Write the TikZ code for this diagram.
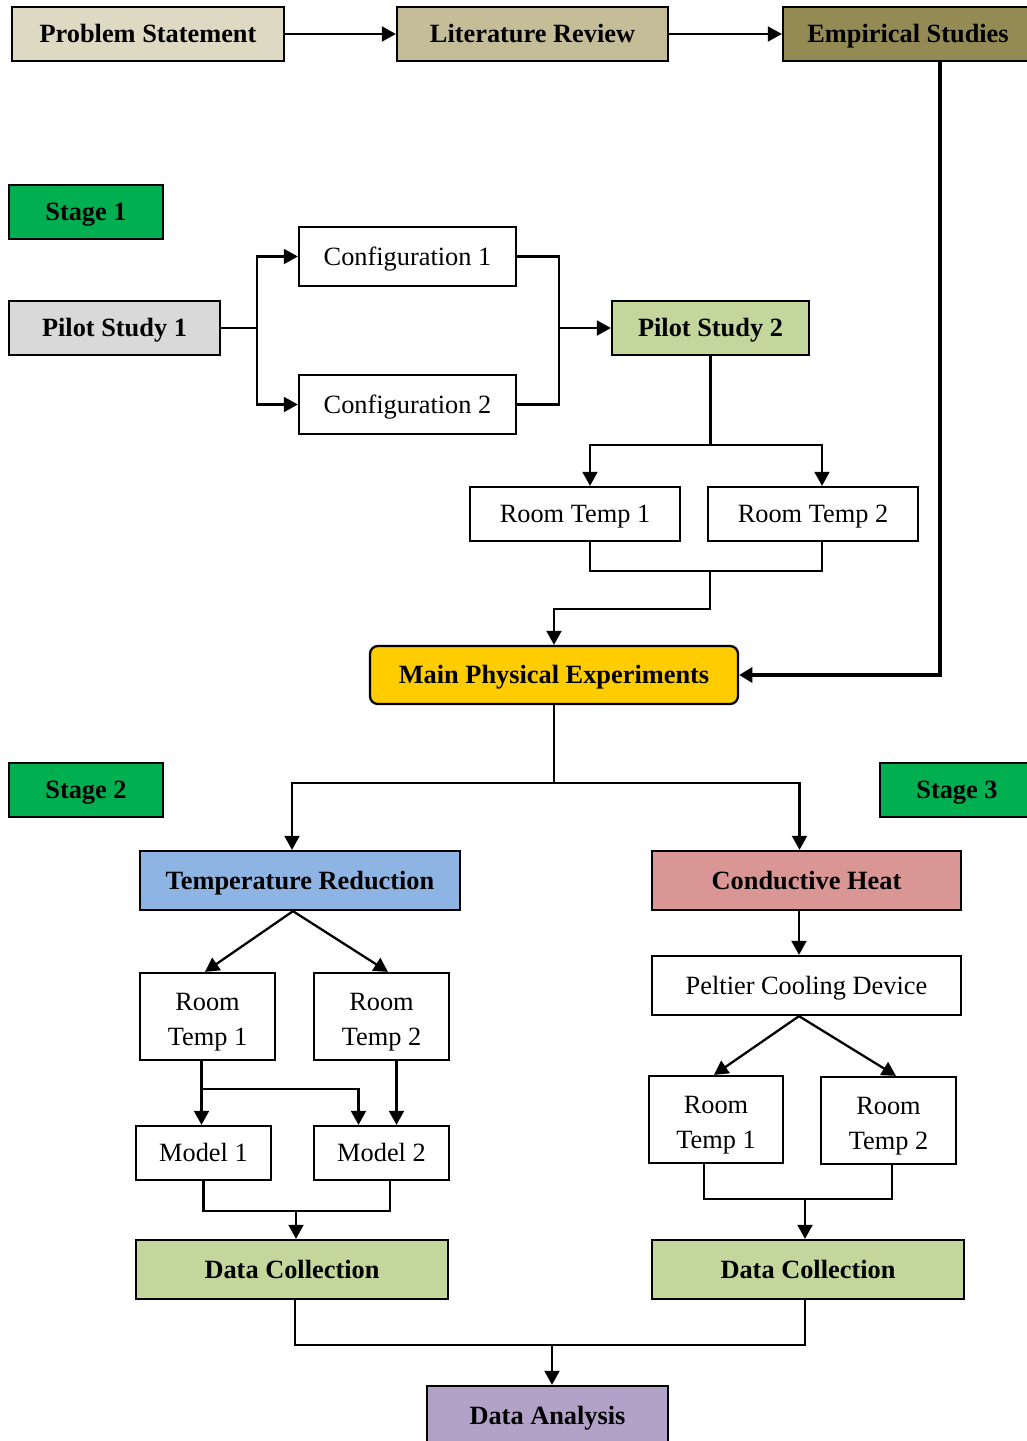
\documentclass[tikz,border=0pt]{standalone}
\usepackage{fontspec}
\setmainfont{Liberation Serif}
\usepackage{xcolor}
\usetikzlibrary{arrows.meta,positioning}
\definecolor{probtan}{HTML}{DDD9C3}
\definecolor{littan}{HTML}{C4BD97}
\definecolor{empolive}{HTML}{948A54}
\definecolor{stagegreen}{HTML}{00B050}
\definecolor{pilotgray}{HTML}{D9D9D9}
\definecolor{lightgreen}{HTML}{C3D69B}
\definecolor{mainyellow}{HTML}{FFCC00}
\definecolor{coolblue}{HTML}{8EB4E3}
\definecolor{heatred}{HTML}{D99694}
\definecolor{analysispurple}{HTML}{B3A2C7}
\tikzset{
  box/.style={rectangle, draw, line width=1.3pt, inner sep=0pt,
    font=\fontsize{15}{20}\selectfont, text height=12pt, text depth=1.8pt},
  boldbox/.style={box, font=\fontsize{15}{20}\selectfont\bfseries},
  multibox/.style={box, text height=2pt, text depth=9.4pt},
  wh/.style 2 args={minimum width=#1*0.02cm, minimum height=#2*0.02cm},
  link/.style={line width=1.3pt},
  arrow/.style={-{Triangle[length=8pt, width=8.5pt]}, line width=1.3pt},
  bigarrow/.style={-{Triangle[length=7.5pt, width=8.5pt]}, line width=2.8pt},
}
\newcommand{\twolines}[2]{\begin{tabular}[t]{@{}c@{}}#1\\#2\end{tabular}}

\begin{document}
\begin{tikzpicture}[x=0.02cm, y=-0.02cm]
  \useasboundingbox (0,0) rectangle (1027,1441);
  \clip (0,0) rectangle (1027,1441);

  % Top row
  \node[boldbox, wh={272}{54}, fill=probtan] (prob) at (148,34) {Problem Statement};
  \node[boldbox, wh={271}{54}, fill=littan] (lit) at (532.5,34) {Literature Review};
  \node[boldbox, wh={250}{54}, fill=empolive] (emp) at (908,34) {Empirical Studies};

  % Stage 1
  \node[boldbox, wh={154}{54}, fill=stagegreen] (stage1) at (86,212) {Stage 1};
  \node[boldbox, wh={211}{54}, fill=pilotgray] (pilot1) at (114.5,328) {Pilot Study 1};
  \node[box, wh={217}{59}] (config1) at (407.5,256.5) {Configuration 1};
  \node[box, wh={217}{59}] (config2) at (407.5,404.5) {Configuration 2};
  \node[boldbox, wh={197}{54}, fill=lightgreen] (pilot2) at (710.5,328) {Pilot Study 2};
  \node[box, wh={210}{54}] (room1) at (575,514) {Room Temp 1};
  \node[box, wh={210}{54}] (room2) at (813,514) {Room Temp 2};
  \node[boldbox, wh={368}{58}, fill=mainyellow, rounded corners=4.5pt] (main) at (554,675) {Main Physical Experiments};

  % Stage 2 and stage 3
  \node[boldbox, wh={154}{54}, fill=stagegreen] (stage2) at (86,790) {Stage 2};
  \node[boldbox, wh={154}{54}, fill=stagegreen] (stage3) at (957,790) {Stage 3};
  \node[boldbox, wh={320}{59}, fill=coolblue] (tempred) at (300,880.5) {Temperature Reduction};
  \node[boldbox, wh={309}{59}, fill=heatred] (heat) at (806.5,880.5) {Conductive Heat};
  \node[multibox, wh={135}{87}] (lroom1) at (207.5,1016.5) {\twolines{Room}{Temp 1}};
  \node[multibox, wh={135}{87}] (lroom2) at (381.5,1016.5) {\twolines{Room}{Temp 2}};
  \node[box, wh={135}{54}] (model1) at (203.5,1153) {Model 1};
  \node[box, wh={135}{54}] (model2) at (381.5,1153) {Model 2};
  \node[box, wh={309}{59}] (peltier) at (806.5,985.5) {Peltier Cooling Device};
  \node[multibox, wh={134}{87}] (rroom1) at (716,1119.5) {\twolines{Room}{Temp 1}};
  \node[multibox, wh={135}{87}] (rroom2) at (888.5,1120.5) {\twolines{Room}{Temp 2}};
  \node[boldbox, wh={312}{59}, fill=lightgreen] (data1) at (292,1269.5) {Data Collection};
  \node[boldbox, wh={312}{59}, fill=lightgreen] (data2) at (808,1269.5) {Data Collection};
  \node[boldbox, wh={241}{59}, fill=analysispurple] (analysis) at (547.5,1415.5) {Data Analysis};

  % Top row arrows
  \draw[arrow] (prob) -- (lit);
  \draw[arrow] (lit) -- (emp);
  \draw[bigarrow] ([xshift=0.64cm]emp.south) |- (main.east);

  % Pilot study 1 branches
  \draw[link] (pilot1.east) -- ++(36,0) coordinate (fork1);
  \draw[arrow] (fork1) |- (config1.west);
  \draw[arrow] (fork1) |- (config2.west);
  \draw[link] (config1.east) -- ++(42,0) coordinate (join1) |- (config2.east);
  \draw[arrow] (join1 |- pilot2.west) -- (pilot2.west);

  % Pilot study 2 branches
  \draw[link] (pilot2.south) -- ++(0,89) coordinate (fork2);
  \draw[arrow] (fork2) -| ([xshift=0.3cm]room1.north);
  \draw[arrow] (fork2) -| ([xshift=0.18cm]room2.north);
  \draw[link] ([xshift=0.3cm]room1.south) -- ++(0,29) -| ([xshift=0.18cm]room2.south);
  \coordinate (join2) at (710,570);
  \draw[arrow] (join2) -- ++(0,39) -| (main.north);

  % Split into stage 2 and stage 3
  \draw[link] (main.south) -- ++(0,78) coordinate (fork3);
  \draw[arrow] (fork3) -| ([xshift=-0.16cm]tempred.north);
  \draw[arrow] (fork3) -| ([xshift=-0.14cm]heat.north);

  % Temperature reduction branch
  \draw[arrow] ([xshift=-0.14cm]tempred.south) -- ([xshift=-0.05cm]lroom1.north);
  \draw[arrow] ([xshift=-0.14cm]tempred.south) -- ([xshift=0.13cm]lroom2.north);
  \coordinate (lr1) at ([xshift=-0.12cm]lroom1.south);
  \coordinate (lr2) at ([xshift=0.3cm]lroom2.south);
  \draw[arrow] (lr1) -- (lr1 |- model1.north);
  \draw[arrow] (lr2) -- (lr2 |- model2.north);
  \draw[arrow] (lr1) ++(0,28) -| ([xshift=-0.46cm]model2.north);
  \draw[link] (model1.south) -- ++(0,30) -| ([xshift=0.17cm]model2.south);
  \coordinate (join4) at (296,1210);
  \draw[arrow] (join4) -- (join4 |- data1.north);

  % Conductive heat branch
  \draw[arrow] ([xshift=-0.15cm]heat.south) -- ([xshift=-0.15cm]peltier.north);
  \draw[arrow] ([xshift=-0.15cm]peltier.south) -- ([xshift=-0.04cm]rroom1.north);
  \draw[arrow] ([xshift=-0.15cm]peltier.south) -- ([xshift=0.15cm]rroom2.north);
  \draw[link] ([xshift=-0.24cm]rroom1.south) -- ++(0,35) -| ([xshift=0.07cm]rroom2.south);
  \coordinate (join5) at (805,1198);
  \draw[arrow] (join5) -- (join5 |- data2.north);

  % Final merge
  \draw[link] ([xshift=0.06cm]data1.south) -- ++(0,45) -| ([xshift=-0.06cm]data2.south);
  \coordinate (join6) at (552,1344);
  \draw[arrow] (join6) -- (join6 |- analysis.north);

\end{tikzpicture}
\end{document}
